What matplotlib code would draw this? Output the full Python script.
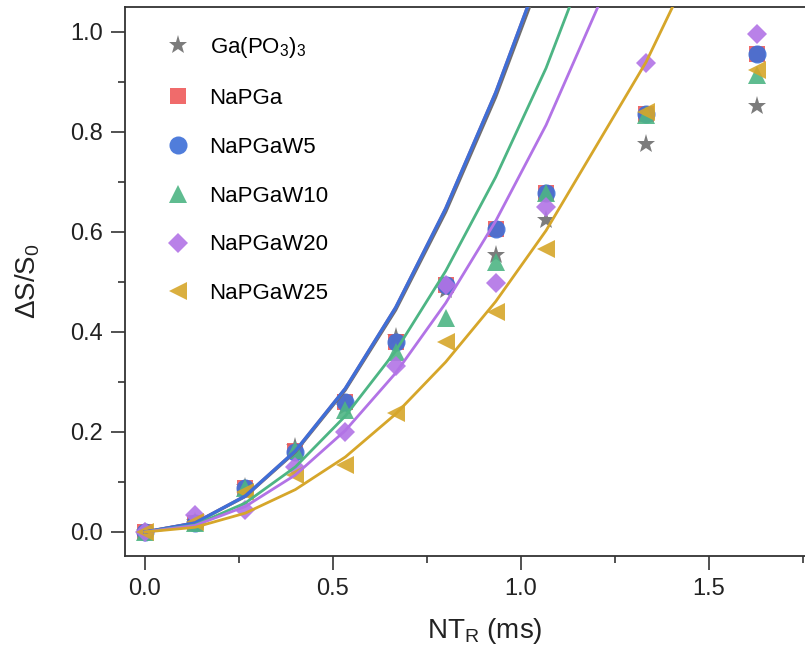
import matplotlib
matplotlib.use("Agg")
import matplotlib.pyplot as plt
from matplotlib.ticker import MultipleLocator

plt.rcParams['font.family'] = ['Liberation Sans', 'DejaVu Sans']
plt.rcParams['mathtext.fontset'] = 'custom'
plt.rcParams['mathtext.rm'] = 'Liberation Sans'
plt.rcParams['mathtext.it'] = 'Liberation Sans'

# measured points
nt_r = [0.0, 0.133, 0.267, 0.4, 0.533, 0.667, 0.8, 0.933, 1.067, 1.333, 1.627]
ga_po3 = [0.0, 0.02, 0.09, 0.17, 0.25, 0.39, 0.485, 0.555, 0.624, 0.776, 0.852]
napga = [0.0, 0.018, 0.088, 0.162, 0.26, 0.38, 0.494, 0.607, 0.679, 0.837, 0.957]
napgaw5 = [0.0, 0.018, 0.088, 0.161, 0.261, 0.38, 0.494, 0.607, 0.679, 0.837, 0.957]
napgaw10 = [0.0, 0.018, 0.088, 0.165, 0.245, 0.36, 0.428, 0.54, 0.679, 0.835, 0.914]
napgaw20 = [0.0, 0.034, 0.044, 0.131, 0.20, 0.332, 0.494, 0.498, 0.65, 0.939, 0.997]
napgaw25 = [0.0, 0.02, 0.081, 0.114, 0.134, 0.238, 0.381, 0.44, 0.567, 0.84, 0.924]

# fitted curves, read at the same NT_R values
fit_x = [0.0, 0.133, 0.267, 0.4, 0.533, 0.667, 0.8, 0.933, 1.067, 1.333, 1.627]
fit_ga = [0.0, 0.018, 0.071, 0.16, 0.284, 0.444, 0.64, 0.87, 1.138, 1.78, 2.65]
fit_napga = [0.0, 0.018, 0.072, 0.162, 0.287, 0.449, 0.647, 0.879, 1.15, 1.8, 2.68]
fit_w5 = [0.0, 0.018, 0.072, 0.162, 0.287, 0.449, 0.647, 0.879, 1.15, 1.8, 2.68]
fit_w10 = [0.0, 0.014, 0.058, 0.13, 0.232, 0.362, 0.522, 0.71, 0.928, 1.45, 2.16]
fit_w20 = [0.0, 0.013, 0.051, 0.114, 0.203, 0.318, 0.458, 0.622, 0.814, 1.27, 1.89]
fit_w25 = [0.0, 0.0094, 0.0378, 0.0848, 0.15, 0.236, 0.34, 0.461, 0.603, 0.94, 1.40]

labels = ["Ga(PO$_3$)$_3$", "NaPGa", "NaPGaW5", "NaPGaW10", "NaPGaW20", "NaPGaW25"]
colors = ["#6e6e6e", "#ef5b5b", "#3d6fd8", "#4db584", "#b273e6", "#d6a62a"]
markers = ["*", "s", "o", "^", "D", "<"]
sizes = [14, 11, 13, 13, 10, 13]
points = [ga_po3, napga, napgaw5, napgaw10, napgaw20, napgaw25]
fits = [fit_ga, fit_napga, fit_w5, fit_w10, fit_w20, fit_w25]
widths = [2.2, 2.2, 2.4, 2.0, 2.0, 2.0]

fig = plt.figure(figsize=(8.05, 6.53), dpi=100)
ax = fig.add_axes([125 / 805, 97 / 653, 720 / 805, 549 / 653])

handles = []
for y, c, m, s, lab in zip(points, colors, markers, sizes, labels):
    h, = ax.plot(nt_r, y, linestyle="none", marker=m, ms=s, color=c,
                 markeredgewidth=0, alpha=0.9, label=lab, zorder=3)
    handles.append(h)

for f, c, w in zip(fits, colors, widths):
    ax.plot(fit_x, f, color=c, lw=w, zorder=4)

ax.set_xlim(-0.053, 1.862)
ax.set_ylim(-0.048, 1.05)
ax.xaxis.set_major_locator(MultipleLocator(0.5))
ax.xaxis.set_minor_locator(MultipleLocator(0.25))
ax.yaxis.set_major_locator(MultipleLocator(0.2))
ax.yaxis.set_minor_locator(MultipleLocator(0.1))
ax.xaxis.set_major_formatter(lambda v, _: f"{v:.1f}")
ax.yaxis.set_major_formatter(lambda v, _: f"{v:.1f}")
ax.tick_params(which="major", direction="out", length=10, width=1.2,
               labelsize=17, colors="#333333", labelcolor="#222222", pad=6)
ax.tick_params(which="minor", direction="out", length=5, width=1.2, colors="#333333")
ax.tick_params(top=False, right=False, which="both")
for sp in ax.spines.values():
    sp.set_color("#333333")
    sp.set_linewidth(1.3)
# right spine falls outside the picture in the original
ax.spines["right"].set_visible(False)

ax.set_xlabel("NT$_\\mathrm{R}$ (ms)", fontsize=20, color="#222222", labelpad=11)
ax.set_ylabel("ΔS/S$_0$", fontsize=20, color="#222222", labelpad=20)

ax.legend(handles=handles, loc="upper left", bbox_to_anchor=(0.028, 0.985),
          frameon=False, fontsize=16, labelspacing=1.25, handletextpad=0.8,
          handlelength=1.2)

fig.savefig("out.png", dpi=100)
plt.close(fig)
